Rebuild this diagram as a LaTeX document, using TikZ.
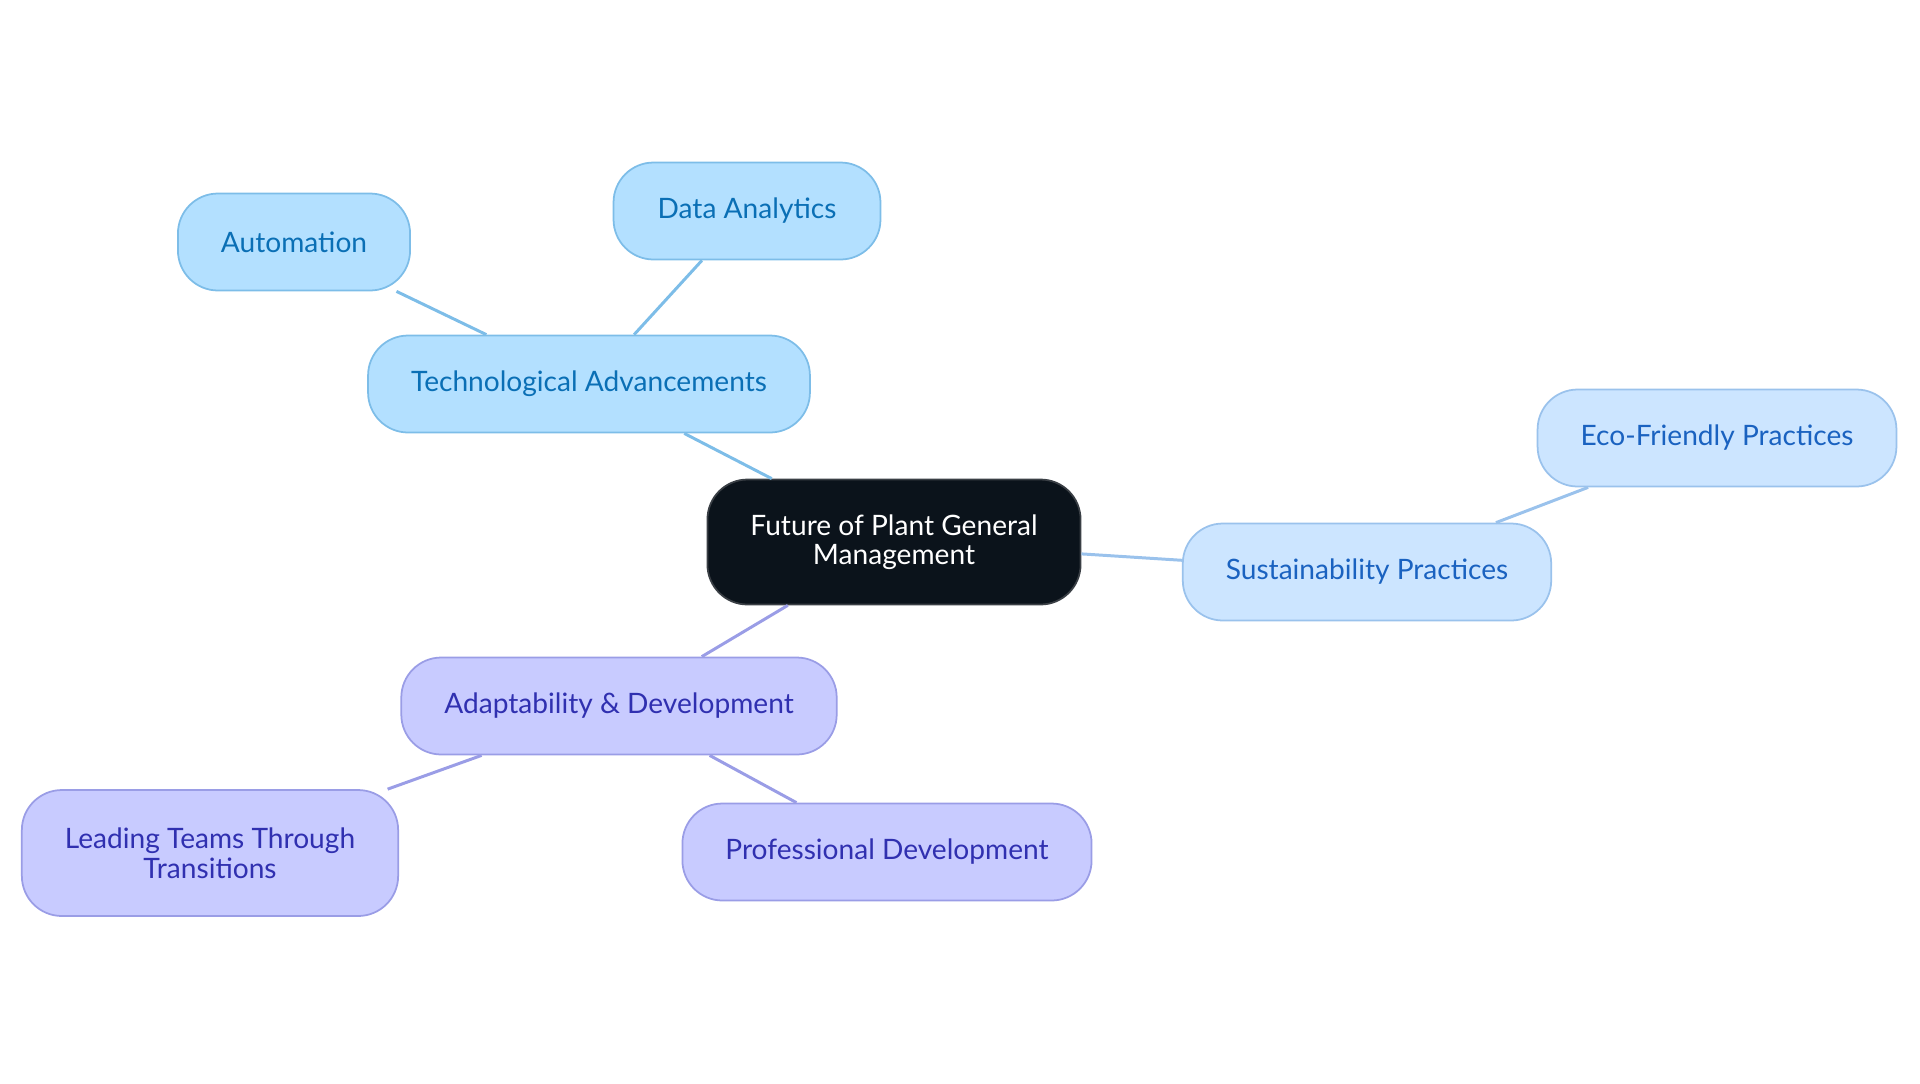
\documentclass[tikz,border=0pt]{standalone}
\usepackage{fontspec}
\setmainfont{Lato}
\usetikzlibrary{positioning}
\definecolor{rootFill}{HTML}{0B131B}
\definecolor{rootLine}{HTML}{3A3F45}
\definecolor{techFill}{HTML}{B3E0FF}
\definecolor{techLine}{HTML}{7DBDE8}
\definecolor{techText}{HTML}{0A6FB5}
\definecolor{sustFill}{HTML}{CCE5FF}
\definecolor{sustLine}{HTML}{9AC2EC}
\definecolor{sustText}{HTML}{1A62C0}
\definecolor{adaptFill}{HTML}{C8CBFF}
\definecolor{adaptLine}{HTML}{9A9DE6}
\definecolor{adaptText}{HTML}{3030B0}

\tikzset{
  mapnode/.style={rounded corners=0.8cm,line width=1pt,inner xsep=0.86cm,
    minimum height=1.94cm,align=center,font=\fontsize{16}{16.8}\selectfont},
  rootnode/.style={mapnode,fill=rootFill,draw=rootLine,text=white,minimum height=2.5cm},
  technode/.style={mapnode,fill=techFill,draw=techLine,text=techText},
  sustnode/.style={mapnode,fill=sustFill,draw=sustLine,text=sustText},
  adaptnode/.style={mapnode,fill=adaptFill,draw=adaptLine,text=adaptText},
  techedge/.style={draw=techLine,line width=1.7pt},
  sustedge/.style={draw=sustLine,line width=1.7pt},
  adaptedge/.style={draw=adaptLine,line width=1.7pt}
}

\begin{document}
\begin{tikzpicture}[x=0.02cm,y=-0.02cm]
  \useasboundingbox (0,0) rectangle (1920,1083);
  % nodes
  \node[rootnode] (root) at (894,542) {Future of Plant General\\Management};
  \node[technode] (tech) at (589,384) {Technological Advancements};
  \node[technode,minimum width=4.64cm] (auto) at (294,242) {Automation};
  \node[technode,minimum width=5.34cm] (data) at (747,211) {Data Analytics};
  \node[sustnode] (sust) at (1367,572) {Sustainability Practices};
  \node[sustnode] (eco) at (1717,438) {Eco-Friendly Practices};
  \node[adaptnode] (adapt) at (619,706) {Adaptability \& Development};
  \node[adaptnode,minimum height=2.52cm] (lead) at (210,853) {Leading Teams Through\\Transitions};
  \node[adaptnode] (prof) at (887,852) {Professional Development};
  % edges
  \draw[techedge] (root) -- (tech);
  \draw[techedge] (tech) -- (auto);
  \draw[techedge] (tech) -- (data);
  \draw[sustedge] (root) -- (sust);
  \draw[sustedge] (sust) -- (eco);
  \draw[adaptedge] (root) -- (adapt);
  \draw[adaptedge] (adapt) -- (lead);
  \draw[adaptedge] (adapt) -- (prof);
\end{tikzpicture}
\end{document}
